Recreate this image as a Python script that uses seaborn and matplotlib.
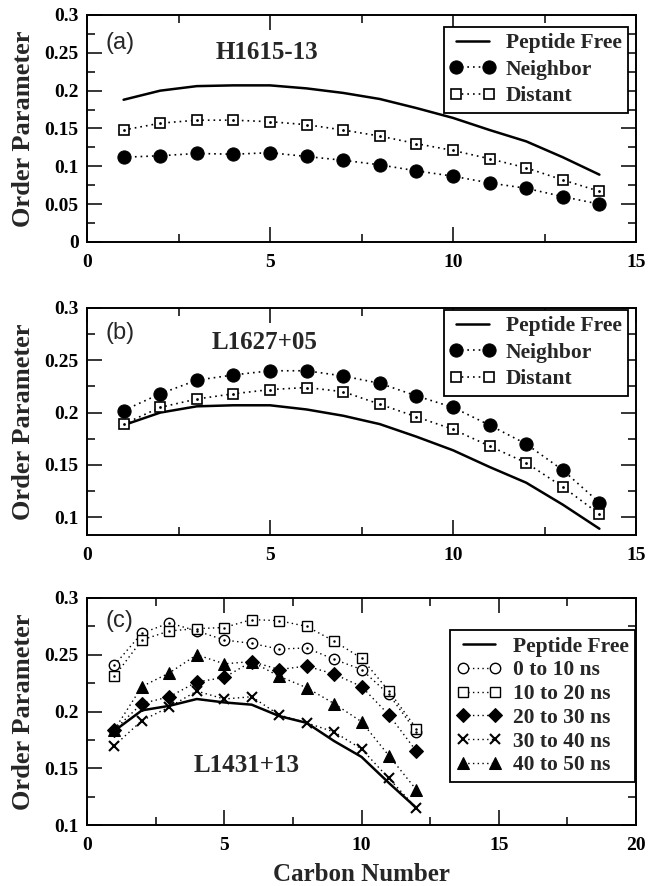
import numpy as np
import pandas as pd
import matplotlib
matplotlib.use("Agg")
import matplotlib.pyplot as plt
from matplotlib.ticker import MultipleLocator, FuncFormatter
import seaborn as sns

# ---------------- data ----------------
carbon14 = list(range(1, 15))
carbon12 = list(range(1, 13))

peptide_free_ab = [0.188, 0.200, 0.206, 0.207, 0.207, 0.203, 0.197, 0.189, 0.177, 0.164, 0.148, 0.133, 0.112, 0.089]

a_neighbor = [0.112, 0.114, 0.117, 0.116, 0.118, 0.113, 0.108, 0.102, 0.094, 0.087, 0.078, 0.071, 0.060, 0.050]
a_distant = [0.148, 0.157, 0.161, 0.161, 0.159, 0.155, 0.148, 0.140, 0.130, 0.121, 0.110, 0.098, 0.082, 0.067]

b_neighbor = [0.202, 0.218, 0.231, 0.236, 0.240, 0.240, 0.235, 0.228, 0.216, 0.205, 0.188, 0.170, 0.145, 0.114]
b_distant = [0.189, 0.205, 0.213, 0.218, 0.222, 0.224, 0.220, 0.208, 0.196, 0.184, 0.168, 0.152, 0.129, 0.103]

c_free = [0.183, 0.201, 0.205, 0.211, 0.208, 0.206, 0.196, 0.190, 0.174, 0.160, 0.137, 0.115]
c_0_10 = [0.241, 0.269, 0.278, 0.271, 0.263, 0.260, 0.255, 0.256, 0.246, 0.237, 0.215, 0.182]
c_10_20 = [0.231, 0.263, 0.271, 0.273, 0.274, 0.281, 0.280, 0.275, 0.262, 0.247, 0.218, 0.185]
c_20_30 = [0.184, 0.207, 0.213, 0.226, 0.230, 0.244, 0.237, 0.240, 0.233, 0.222, 0.197, 0.165]
c_30_40 = [0.170, 0.192, 0.204, 0.218, 0.211, 0.213, 0.197, 0.190, 0.182, 0.167, 0.141, 0.115]
c_40_50 = [0.184, 0.222, 0.234, 0.250, 0.242, 0.244, 0.231, 0.221, 0.207, 0.191, 0.161, 0.131]

panel_titles = ["H1615-13", "L1627+05", "L1431+13"]
panel_tags = ["(a)", "(b)", "(c)"]

# ---------------- style ----------------
sns.set_style("ticks")
plt.rcParams["font.family"] = ["Liberation Serif", "DejaVu Serif"]
plt.rcParams["font.weight"] = "bold"
plt.rcParams["axes.labelweight"] = "bold"
plt.rcParams["legend.numpoints"] = 2

fig = plt.figure(figsize=(6.48, 8.86), dpi=100)
W, H = 648, 886


def make_ax(left, top, right, bottom):
    return fig.add_axes([left / W, 1 - bottom / H, (right - left) / W, (bottom - top) / H])


ax_a = make_ax(87, 15, 636, 242)
ax_b = make_ax(87, 308, 636, 535)
ax_c = make_ax(87, 598, 636, 825)

fmt = FuncFormatter(lambda v, p: "%g" % round(v, 4))


def style_ax(ax, xlim, ylim, xmaj, xmin):
    ax.set_xlim(*xlim)
    ax.set_ylim(*ylim)
    ax.xaxis.set_major_locator(MultipleLocator(xmaj))
    ax.xaxis.set_minor_locator(MultipleLocator(xmin))
    ax.yaxis.set_major_locator(MultipleLocator(0.05))
    ax.yaxis.set_minor_locator(MultipleLocator(0.025))
    ax.yaxis.set_major_formatter(fmt)
    ax.xaxis.set_major_formatter(fmt)
    ax.tick_params(which="both", direction="in", top=True, right=True, width=1.1, colors="black")
    ax.tick_params(which="major", length=11, labelsize=14)
    ax.tick_params(axis="x", which="major", pad=9)
    ax.tick_params(axis="y", which="major", pad=6)
    ax.tick_params(which="minor", length=5.5)
    for s in ax.spines.values():
        s.set_linewidth(1.4)
        s.set_color("black")
    for lab in ax.get_xticklabels() + ax.get_yticklabels():
        lab.set_fontweight("bold")
    ax.set_ylabel("Order Parameter", fontsize=19, fontweight="bold")
    ax.yaxis.set_label_coords(-0.095, 0.5)
    ax.set_xlabel("")


def line(ax, x, y, **kw):
    sns.lineplot(x=x, y=y, ax=ax, sort=False, errorbar=None, **kw)


def centre_dots(ax, x, y, ms=2.0):
    sns.lineplot(x=x, y=y, ax=ax, sort=False, errorbar=None, linestyle="none",
                 marker="o", markersize=ms, color="black", markeredgewidth=0)


dot_ls = (0, (1, 2.4))

# ---- panel (a) ----
ax = ax_a
line(ax, carbon14, peptide_free_ab, color="black", linewidth=1.8, label="Peptide Free")
line(ax, carbon14, a_neighbor, color="black", linewidth=1.2, linestyle=dot_ls, marker="o",
     markersize=9.5, markerfacecolor="black", markeredgecolor="black", label="Neighbor")
line(ax, carbon14, a_distant, color="black", linewidth=1.2, linestyle=dot_ls, marker="s",
     markersize=7.5, markerfacecolor="white", markeredgecolor="black", markeredgewidth=1.2, label="Distant")
centre_dots(ax, carbon14, a_distant)

# ---- panel (b) ----
ax = ax_b
line(ax, carbon14, peptide_free_ab, color="black", linewidth=1.8, label="Peptide Free")
line(ax, carbon14, b_neighbor, color="black", linewidth=1.2, linestyle=dot_ls, marker="o",
     markersize=9.5, markerfacecolor="black", markeredgecolor="black", label="Neighbor")
line(ax, carbon14, b_distant, color="black", linewidth=1.2, linestyle=dot_ls, marker="s",
     markersize=7.5, markerfacecolor="white", markeredgecolor="black", markeredgewidth=1.2, label="Distant")
centre_dots(ax, carbon14, b_distant)

# ---- panel (c) ----
ax = ax_c
line(ax, carbon12, c_free, color="black", linewidth=1.8, label="Peptide Free")
line(ax, carbon12, c_0_10, color="black", linewidth=1.0, linestyle=dot_ls, marker="o",
     markersize=7.5, markerfacecolor="white", markeredgecolor="black", markeredgewidth=1.0, label="0 to 10 ns")
line(ax, carbon12, c_10_20, color="black", linewidth=1.0, linestyle=dot_ls, marker="s",
     markersize=6.5, markerfacecolor="white", markeredgecolor="black", markeredgewidth=1.0, label="10 to 20 ns")
line(ax, carbon12, c_20_30, color="black", linewidth=1.0, linestyle=dot_ls, marker="D",
     markersize=7, markerfacecolor="black", markeredgecolor="black", label="20 to 30 ns")
line(ax, carbon12, c_30_40, color="black", linewidth=1.0, linestyle=dot_ls, marker="x",
     markersize=7, markeredgecolor="black", markeredgewidth=1.5, label="30 to 40 ns")
line(ax, carbon12, c_40_50, color="black", linewidth=1.0, linestyle=dot_ls, marker="^",
     markersize=9, markerfacecolor="black", markeredgecolor="black", label="40 to 50 ns")
centre_dots(ax, carbon12, c_0_10, ms=1.8)
centre_dots(ax, carbon12, c_10_20, ms=1.8)

style_ax(ax_a, (0, 15), (0, 0.3), 5, 2.5)
style_ax(ax_b, (0, 15), (0.083, 0.3), 5, 2.5)
style_ax(ax_c, (0, 20), (0.1, 0.3), 5, 2.5)
ax_c.set_xlabel("Carbon Number", fontsize=18, fontweight="bold", labelpad=6)

# panel texts
title_pos = [(0.328, 0.837), (0.324, 0.85), (0.29, 0.264)]
tag_pos = [(0.033, 0.877), (0.033, 0.889), (0.033, 0.90)]
for a_, t, tg, tp, gp in zip([ax_a, ax_b, ax_c], panel_titles, panel_tags, title_pos, tag_pos):
    a_.text(tp[0], tp[1], t, transform=a_.transAxes, ha="center", va="center",
            fontsize=18, fontweight="bold", family=["Liberation Serif"])
    a_.text(gp[0], gp[1], tg, transform=a_.transAxes, ha="left", va="center",
            fontsize=17, fontweight="normal", family=["Liberation Sans"])

# legends
leg_kw = dict(frameon=True, fancybox=False, shadow=False, framealpha=1, edgecolor="black",
              prop={"family": "Liberation Serif", "weight": "bold", "size": 15.5},
              handlelength=2.1, handletextpad=0.5, borderpad=0.3, borderaxespad=0)
for a_, anchor, ls in [(ax_a, (0.986, 0.948), 0.3), (ax_b, (0.986, 0.993), 0.3), (ax_c, (0.998, 0.858), 0.17)]:
    handles, labels = a_.get_legend_handles_labels()
    leg = a_.legend(handles, labels, loc="upper right", bbox_to_anchor=anchor, labelspacing=ls, **leg_kw)
    leg.get_frame().set_linewidth(1.3)

fig.savefig("out.png", dpi=100)
